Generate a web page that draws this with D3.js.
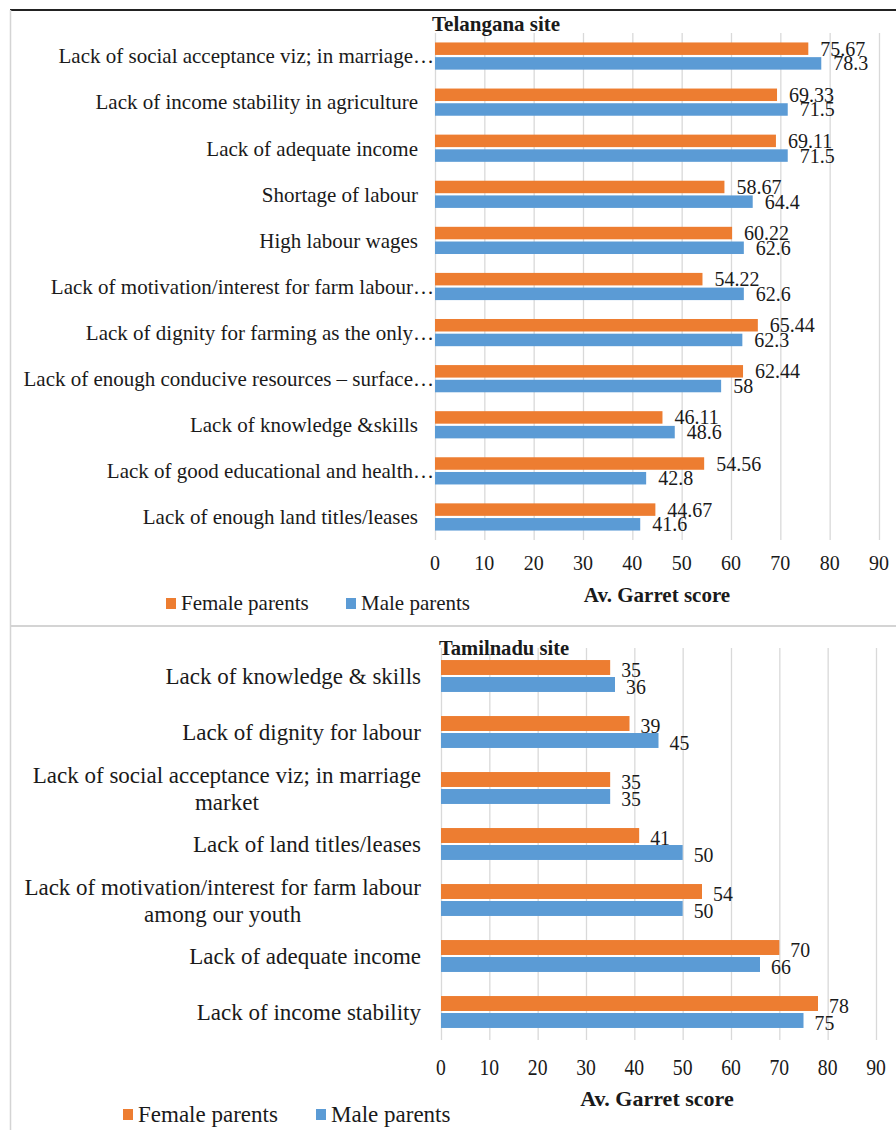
<!DOCTYPE html>
<html>
<head>
<meta charset="utf-8">
<script src="https://cdn.jsdelivr.net/npm/d3@7"></script>
<style>
  body { margin: 0; background: #fff; }
</style>
</head>
<body>
<div id="chart"></div>
<script>
// Telangana site (top panel), top to bottom
var telCategories = [
    "Lack of social acceptance viz; in marriage\u2026",
    "Lack of income stability in agriculture",
    "Lack of adequate income",
    "Shortage of labour",
    "High labour wages",
    "Lack of motivation/interest for farm labour\u2026",
    "Lack of dignity for farming as the only\u2026",
    "Lack of enough conducive resources \u2013 surface\u2026",
    "Lack of knowledge &skills",
    "Lack of good educational and health\u2026",
    "Lack of enough land titles/leases"
];
var telFemale = [75.67, 69.33, 69.11, 58.67, 60.22, 54.22, 65.44, 62.44, 46.11, 54.56, 44.67];
var telMale   = [78.3, 71.5, 71.5, 64.4, 62.6, 62.6, 62.3, 58, 48.6, 42.8, 41.6];

// Tamilnadu site (bottom panel), top to bottom
var tnCategories = [
    ["Lack of knowledge & skills"],
    ["Lack of dignity for labour"],
    ["Lack of social acceptance viz; in marriage", "market"],
    ["Lack of land titles/leases"],
    ["Lack of motivation/interest for farm labour", "among our youth"],
    ["Lack of adequate income"],
    ["Lack of income stability"]
];
var tnFemale = [35, 39, 35, 41, 54, 70, 78];
var tnMale   = [36, 45, 35, 50, 50, 66, 75];

var xTicks = [0, 10, 20, 30, 40, 50, 60, 70, 80, 90];
var seriesNames = ["Female parents", "Male parents"];
var seriesColors = ["#ED7D31", "#5B9BD5"];

var W = 896, H = 1130;

var svg = d3.select("#chart")
    .append("svg")
    .attr("width", W)
    .attr("height", H);

// frame lines
svg.append("line").attr("x1", 10).attr("x2", W).attr("y1", 10).attr("y2", 10)
    .style("stroke", "#222").style("stroke-width", 2);
svg.append("line").attr("x1", 10.5).attr("x2", 10.5).attr("y1", 10).attr("y2", H)
    .style("stroke", "#d4d4d4").style("stroke-width", 1.5);
svg.append("line").attr("x1", 10).attr("x2", W).attr("y1", 626).attr("y2", 626)
    .style("stroke", "#d4d4d4").style("stroke-width", 2);

// text helper; sx < 1 squeezes text sideways like the source picture
function put(g, str, x, y, opt) {
    var sx = opt.sx || 1;
    var t = g.append("text")
        .attr("text-anchor", opt.anchor || "start")
        .attr("dy", "0.35em")
        .style("font-family", "'Liberation Serif'")
        .style("font-size", opt.size + "px")
        .style("fill", "#1a1a1a")
        .text(str);
    if (sx === 1) {
        t.attr("x", x).attr("y", y);
    } else {
        t.attr("transform", "translate(" + x + "," + y + ") scale(" + sx + ",1)");
    }
    if (opt.bold) t.style("font-weight", "bold");
    return t;
}

function panel(cfg) {
    var g = svg.append("g");

    var x = d3.scaleLinear().domain([0, 90]).range([cfg.x0, cfg.x1]);
    var y = d3.scaleBand()
        .domain(d3.range(cfg.cats.length))
        .range([cfg.yTop, cfg.yBot])
        .paddingInner(cfg.pad)
        .paddingOuter(cfg.pad / 2);
    var ys = d3.scaleBand()
        .domain([0, 1])
        .range([0, y.bandwidth()])
        .paddingInner(cfg.innerPad);

    // gridlines
    var grid = g.append("g")
        .attr("transform", "translate(0," + cfg.yBot + ")")
        .call(d3.axisBottom(x).tickValues(xTicks).tickSize(-(cfg.yBot - cfg.yTop)).tickFormat(""));
    grid.select(".domain").remove();
    grid.selectAll("line").style("stroke", "#d9d9d9").style("stroke-width", 1.3);

    // tick labels
    xTicks.forEach(function (v) {
        put(g, String(v), x(v), cfg.tickY, {anchor: "middle", size: cfg.tickSize, sx: cfg.tickSx});
    });

    // bars
    var rows = cfg.cats.map(function (c, i) {
        return {i: i, vals: [cfg.female[i], cfg.male[i]]};
    });
    var row = g.selectAll(".row")
        .data(rows)
        .enter()
        .append("g")
        .attr("transform", function (d) { return "translate(0," + y(d.i) + ")"; });

    row.selectAll("rect")
        .data(function (d) { return d.vals; })
        .enter()
        .append("rect")
        .attr("x", x(0))
        .attr("y", function (d, k) { return ys(k); })
        .attr("width", function (d) { return x(d) - x(0); })
        .attr("height", ys.bandwidth())
        .style("fill", function (d, k) { return seriesColors[k]; });

    row.each(function (d) {
        var r = d3.select(this);
        d.vals.forEach(function (v, k) {
            put(r, String(v), x(v) + cfg.labOff, ys(k) + ys.bandwidth() / 2 + cfg.labDy, {size: cfg.labSize, sx: cfg.labSx});
        });
    });

    // category labels (truncated ones run their ellipsis up to the axis)
    cfg.cats.forEach(function (c, i) {
        var lines = Array.isArray(c) ? c : [c];
        var cy = y(i) + y.bandwidth() / 2;
        if (lines.length === 1) {
            var ex = /\u2026$/.test(lines[0]) ? cfg.catX + 16 : cfg.catX;
            put(g, lines[0], ex, cy, {anchor: "end", size: cfg.catSize, sx: cfg.catSx});
        } else {
            // wrapped label: second line centred under the first
            var t0 = put(g, lines[0], cfg.catX, cy - cfg.lineH / 2, {anchor: "end", size: cfg.catSize, sx: cfg.catSx});
            var w = t0.node().getComputedTextLength() * (cfg.catSx || 1);
            put(g, lines[1], cfg.catX - w / 2, cy + cfg.lineH / 2, {anchor: "middle", size: cfg.catSize, sx: cfg.catSx});
        }
    });

    // title
    put(g, cfg.title, cfg.titleX, cfg.titleY, {size: cfg.titleSize, bold: true, sx: cfg.titleSx});

    // axis title
    put(g, "Av. Garret score", cfg.axTitleX, cfg.axTitleY, {anchor: "middle", size: cfg.axTitleSize, bold: true, sx: cfg.axTitleSx});

    // legend
    seriesNames.forEach(function (s, k) {
        var lx = cfg.legX[k];
        g.append("rect")
            .attr("x", lx).attr("y", cfg.legY - 5)
            .attr("width", 10).attr("height", 11)
            .style("fill", seriesColors[k]);
        put(g, s, lx + cfg.legGap, cfg.legY, {size: cfg.legSize, sx: cfg.legSx});
    });
}

panel({
    cats: telCategories, female: telFemale, male: telMale,
    x0: 435, x1: 879, yTop: 33, yBot: 540, pad: 0.41, innerPad: 0.15,
    tickY: 563, tickSize: 20, tickSx: 1,
    labOff: 12, labDy: 0, labSize: 20, labSx: 1,
    catX: 418, catSize: 21, catSx: 1, lineH: 26,
    title: "Telangana site", titleX: 432, titleY: 24, titleSize: 21, titleSx: 1,
    axTitleX: 657, axTitleY: 595, axTitleSize: 21, axTitleSx: 1,
    legX: [166, 346], legY: 603, legGap: 15, legSize: 21, legSx: 1
});

panel({
    cats: tnCategories, female: tnFemale, male: tnMale,
    x0: 441, x1: 876, yTop: 648, yBot: 1040, pad: 0.43, innerPad: 0.12,
    tickY: 1067, tickSize: 24, tickSx: 0.82,
    labOff: 11, labDy: 2, labSize: 22, labSx: 0.9,
    catX: 421, catSize: 23, catSx: 1, lineH: 27,
    title: "Tamilnadu site", titleX: 439, titleY: 648, titleSize: 21, titleSx: 0.98,
    axTitleX: 657, axTitleY: 1098, axTitleSize: 22, axTitleSx: 1,
    legX: [123, 316], legY: 1114, legGap: 15, legSize: 23, legSx: 1
});
</script>
</body>
</html>
